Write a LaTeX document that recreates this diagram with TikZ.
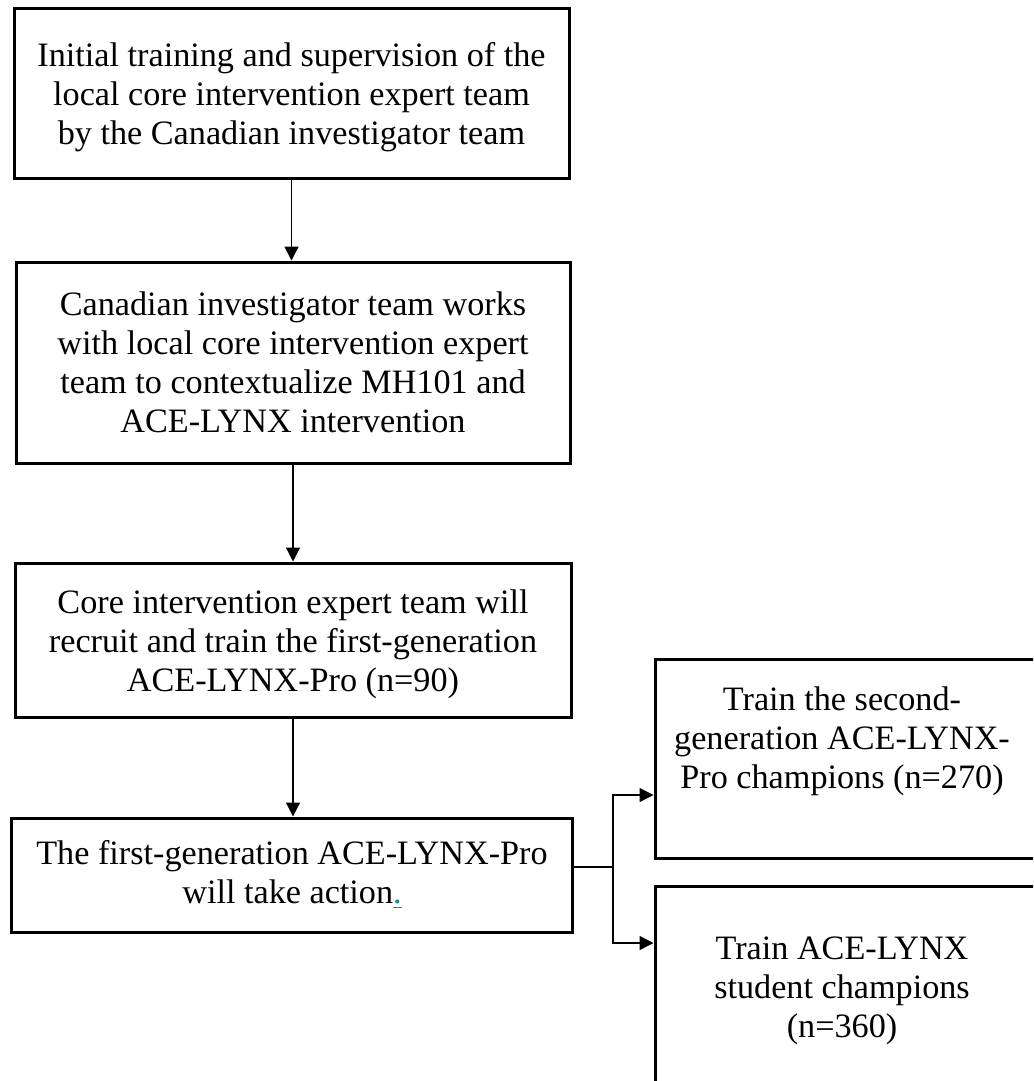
\documentclass[tikz,border=0pt]{standalone}
\usepackage{fontspec}
\setmainfont{Liberation Serif}
\usetikzlibrary{arrows.meta}
\definecolor{linkteal}{RGB}{30,130,140}
\tikzset{
  flowbox/.style={draw, line width=1.5pt, inner sep=0pt},
  flowtext/.style={align=center, inner sep=0pt, font=\fontsize{17.1}{19.5}\selectfont},
  arr/.style={line width=0.6pt, -{Triangle[length=7pt,width=7pt]}},
  link/.style={line width=0.6pt}
}
\begin{document}
\begin{tikzpicture}[x=0.5pt,y=-0.5pt]
  \useasboundingbox (0,0) rectangle (1033,1081);
  \clip (0,0) rectangle (1033,1081);

  % boxes
  \node[flowbox, minimum width=277.5pt, minimum height=84.5pt] (b1) at (291.5,93.5) {};
  \node[flowbox, minimum width=277pt, minimum height=100.5pt] (b2) at (293,362.5) {};
  \node[flowbox, minimum width=278pt, minimum height=77pt] (b3) at (293,640) {};
  \node[flowbox, minimum width=280.5pt, minimum height=57pt] (b4) at (291.5,875) {};
  \node[flowbox, minimum width=192.5pt, minimum height=99.5pt] (b5) at (847.5,758.5) {};
  \node[flowbox, minimum width=192.5pt, minimum height=107pt] (b6) at (847.5,993) {};

  % texts
  \node[flowtext] (t1) at (291.5,97) {Initial training and supervision of the\\local core intervention expert team\\by the Canadian investigator team};
  \node[flowtext] (t2) at (293,362.5) {Canadian investigator team works\\with local core intervention expert\\team to contextualize MH101 and\\ACE-LYNX intervention};
  \node[flowtext] (t3) at (293,644) {Core intervention expert team will\\recruit and train the first-generation\\ACE-LYNX-Pro (n=90)};
  \node[flowtext] (t4) at (292,874.5) {The first-generation ACE-LYNX-Pro\\will take action\textcolor{linkteal}{\underline{.}}};
  \node[flowtext] (t5) at (842,741) {Train the second-\\generation ACE-LYNX-\\Pro champions (n=270)};
  \node[flowtext] (t6) at (842,990.5) {Train ACE-LYNX\\student champions\\(n=360)};

  % arrows
  \draw[arr] (b1.south) -- (b1.south |- b2.north);
  \draw[arr] (b2.south) -- (b2.south |- b3.north);
  \draw[arr] (b3.south) -- (b3.south |- b4.north);

  \coordinate (split) at (613,867);
  \coordinate (up) at (613,795);
  \coordinate (dn) at (613,943);
  \draw[link] (b4.east |- split) -- (split);
  \draw[arr] (split) -- (up) -- (up -| b5.west);
  \draw[arr] (split) -- (dn) -- (dn -| b6.west);
\end{tikzpicture}
\end{document}
